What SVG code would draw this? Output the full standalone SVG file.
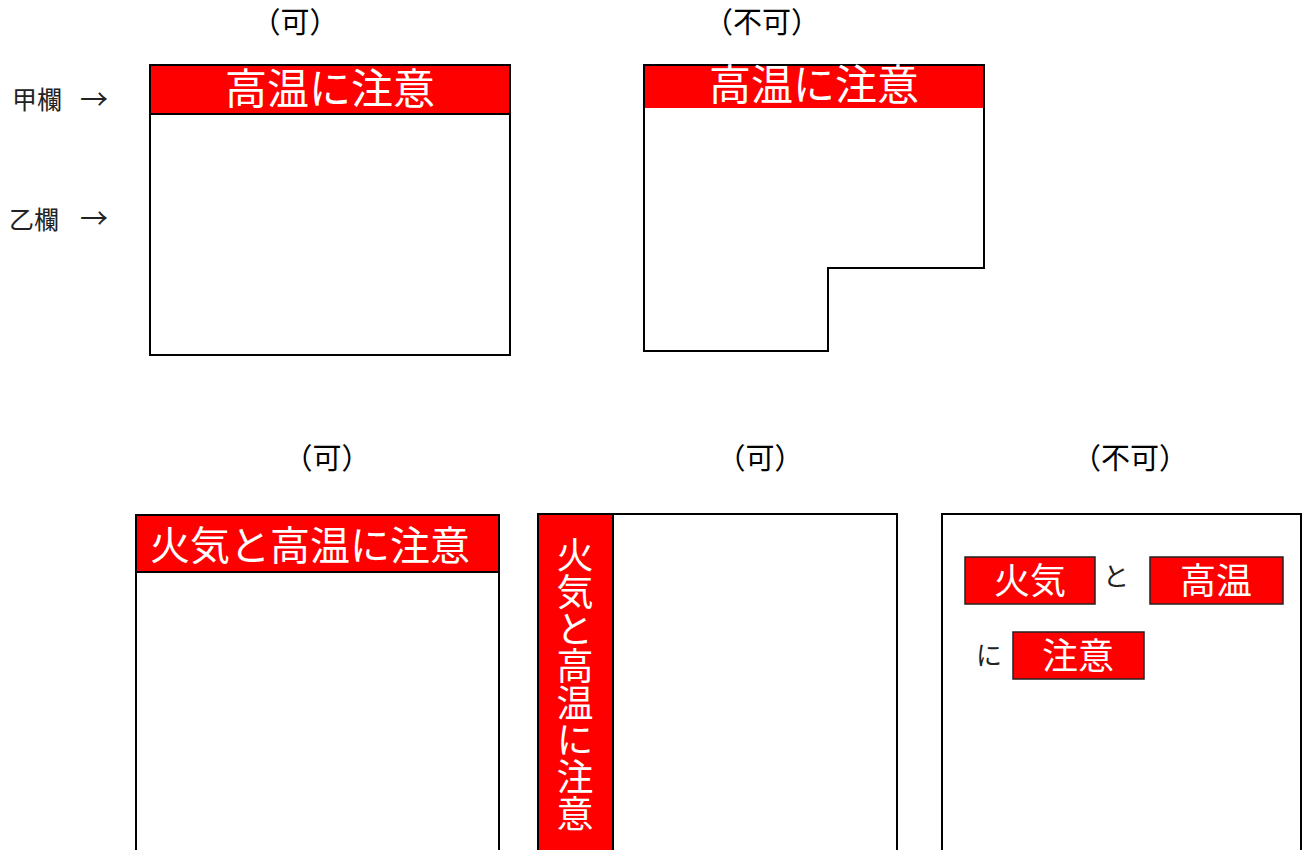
<svg xmlns="http://www.w3.org/2000/svg" width="1305" height="850" viewBox="0 0 1305 850">
<style>
.lbl{font-family:"Liberation Serif","Noto Sans CJK JP",serif;font-size:29px;fill:#000;text-anchor:middle}
.side{font-family:"Noto Sans CJK JP",sans-serif;font-size:25px;fill:#222}
.arr{font-family:"Noto Sans CJK JP",sans-serif;font-size:28px;fill:#222;text-anchor:middle}
.box{fill:#fff;stroke:#000;stroke-width:2}
.red{fill:#f00}
.wt{font-family:"Noto Sans CJK JP",sans-serif;fill:#fff;text-anchor:middle}
.tag{fill:#f00;stroke:#222;stroke-width:1.5}
.blk{font-family:"Noto Sans CJK JP",sans-serif;font-size:26px;fill:#222;text-anchor:middle}
</style>
<rect width="1305" height="850" fill="#fff"/>
<g id="labels">
<text class="lbl" x="295" y="33">（可）</text>
<text class="lbl" x="762" y="33">（不可）</text>
<text class="lbl" x="327" y="469">（可）</text>
<text class="lbl" x="760" y="469">（可）</text>
<text class="lbl" x="1130" y="469">（不可）</text>
<text class="side" x="12" y="109">甲欄</text>
<text class="arr" x="94" y="110">→</text>
<text class="side" x="9" y="229">乙欄</text>
<text class="arr" x="94" y="229">→</text>
</g>
<g id="sample1">
<rect class="box" x="150" y="65" width="360" height="290"/>
<rect class="red" x="151" y="66" width="358" height="48"/>
<line x1="150" y1="114" x2="510" y2="114" stroke="#000" stroke-width="2"/>
<text class="wt" x="330" y="104" font-size="42">高温に注意</text>
</g>
<g id="sample2">
<path class="box" d="M644 65 H984 V268 H828 V351 H644 Z"/>
<rect class="red" x="645" y="66" width="338" height="42"/>
<text class="wt" x="814" y="100" font-size="42">高温に注意</text>
</g>
<g id="sample3">
<rect class="box" x="136" y="515" width="363" height="345"/>
<rect class="red" x="137" y="516" width="361" height="56"/>
<line x1="136" y1="572" x2="499" y2="572" stroke="#000" stroke-width="2"/>
<text class="wt" x="310" y="560" font-size="40">火気と高温に注意</text>
</g>
<g id="sample4">
<rect class="box" x="538" y="514" width="359" height="346"/>
<rect class="red" x="539" y="515" width="74" height="345"/>
<line x1="613" y1="514" x2="613" y2="850" stroke="#000" stroke-width="2"/>
<text x="575" y="536" font-size="37" writing-mode="vertical-rl" style="font-family:'Noto Sans CJK JP',sans-serif;fill:#fff">火気と高温に注意</text>
</g>
<g id="sample5">
<rect class="box" x="942" y="514" width="359" height="346"/>
<rect class="tag" x="965" y="557" width="130" height="47"/>
<text class="wt" x="1030" y="594" font-size="36">火気</text>
<text class="blk" x="1116" y="586">と</text>
<rect class="tag" x="1150" y="557" width="133" height="47"/>
<text class="wt" x="1216" y="594" font-size="36">高温</text>
<text class="blk" x="989" y="665">に</text>
<rect class="tag" x="1013" y="632" width="131" height="47"/>
<text class="wt" x="1078" y="669" font-size="36">注意</text>
</g>
</svg>
